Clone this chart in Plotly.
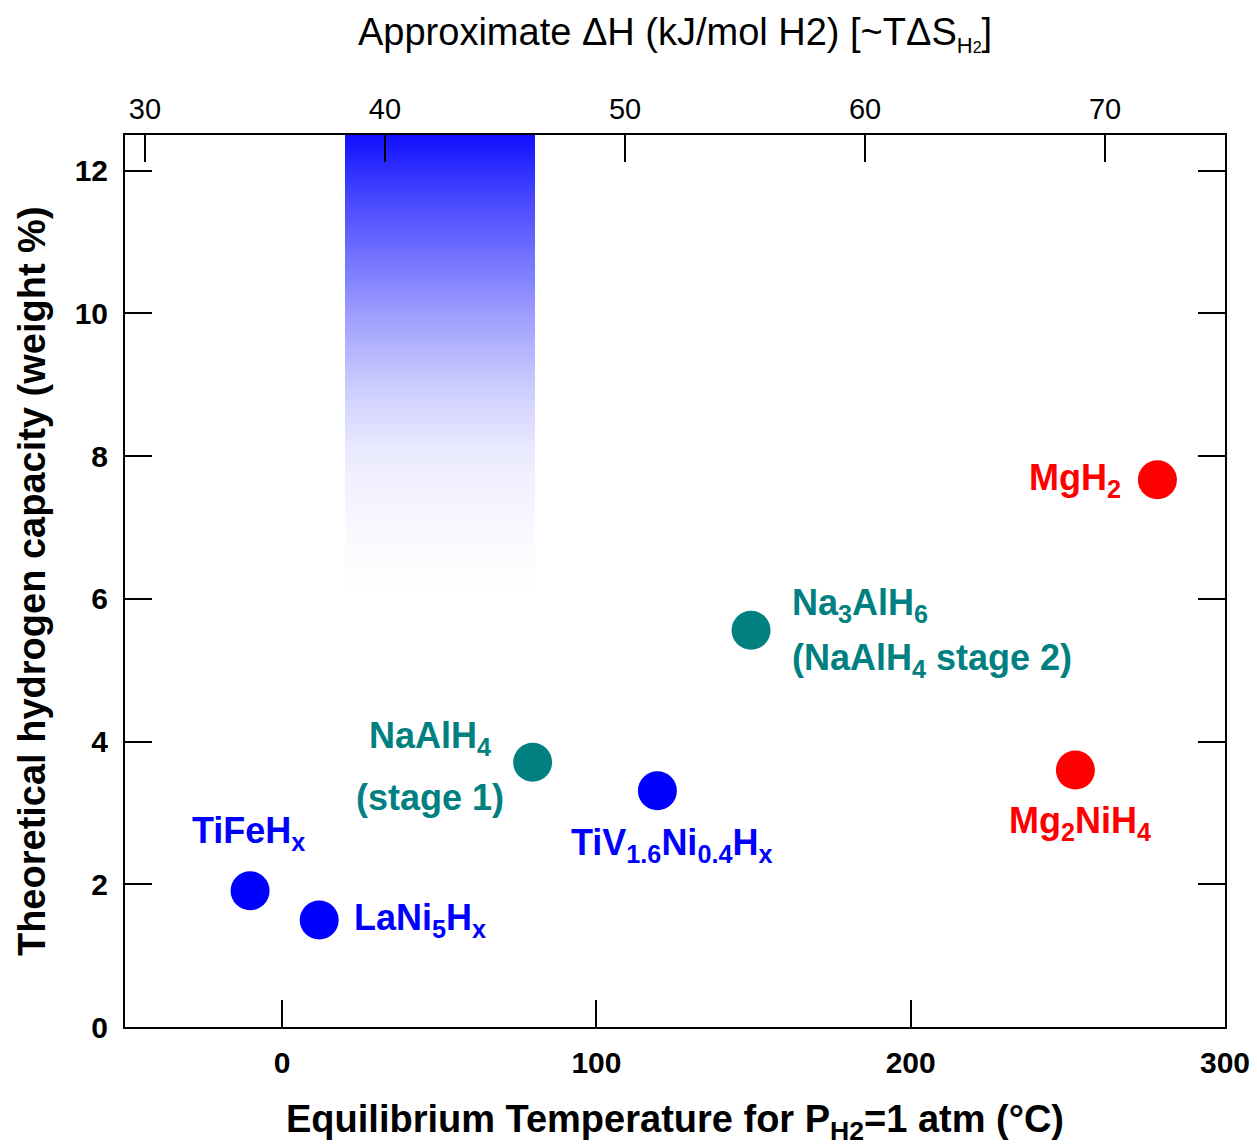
import numpy as np
import plotly.graph_objects as go

# Hydride materials: equilibrium temperature (°C) at 1 atm H2 vs. theoretical capacity (wt %)
materials = ["TiFeHx", "LaNi5Hx", "NaAlH4 (stage 1)", "TiV1.6Ni0.4Hx",
             "Na3AlH6 (NaAlH4 stage 2)", "Mg2NiH4", "MgH2"]
temperature_c = [-10.2, 11.8, 79.7, 119.4, 149.2, 252.4, 278.5]
capacity_wt = [1.91, 1.50, 3.71, 3.31, 5.56, 3.60, 7.67]
families = ["intermetallic", "intermetallic", "alanate", "intermetallic",
            "alanate", "magnesium", "magnesium"]
label_lines = [
    ["TiFeH<sub>x</sub>"],
    ["LaNi<sub>5</sub>H<sub>x</sub>"],
    ["NaAlH<sub>4</sub>", "(stage 1)"],
    ["TiV<sub>1.6</sub>Ni<sub>0.4</sub>H<sub>x</sub>"],
    ["Na<sub>3</sub>AlH<sub>6</sub>", "(NaAlH<sub>4</sub> stage 2)"],
    ["Mg<sub>2</sub>NiH<sub>4</sub>"],
    ["MgH<sub>2</sub>"],
]

# Target window, shaded as a vertical gradient band
band_temp_c = [20.0, 80.6]
band_capacity = [6.08, 12.53]

# Axis ticks
temp_ticks = [0, 100, 200, 300]
capacity_ticks = [0, 2, 4, 6, 8, 10, 12]
dh_ticks = [30, 40, 50, 60, 70]

# Styling
family_color = {"intermetallic": "#0000ff", "alanate": "#008080", "magnesium": "#ff0000"}
# label placement relative to each marker: (xshift px, xanchor, [yshift px per line])
label_place = [
    (-60, "left", [58]),
    (33, "left", [0]),
    (-103, "center", [24, -35]),
    (-88, "left", [-54]),
    (39, "left", [25, -30]),
    (5, "center", [-53]),
    (-34, "right", [0]),
]

FONT = "Liberation Sans, Arial, sans-serif"

fig = go.Figure()

# Gradient band: white at the bottom, saturated blue at the top
edges = np.linspace(band_capacity[0], band_capacity[1], 160)
centers = (edges[:-1] + edges[1:]) / 2
white_frac = [(0.0, 1.0), (0.159, 0.97), (0.304, 0.92), (0.45, 0.80),
              (0.594, 0.63), (0.739, 0.44), (0.884, 0.24), (1.0, 0.05)]
band_scale = [[p, "rgb({0},{0},255)".format(int(round(255 * w)))] for p, w in white_frac]
fig.add_trace(go.Heatmap(
    x=band_temp_c, y=edges, z=centers.reshape(-1, 1),
    zmin=band_capacity[0], zmax=band_capacity[1],
    colorscale=band_scale, showscale=False, hoverinfo="skip",
))

colors = [family_color[f] for f in families]
fig.add_trace(go.Scatter(
    x=temperature_c, y=capacity_wt, mode="markers",
    marker=dict(size=39, color=colors, line=dict(width=0)),
    text=materials, hoverinfo="text", showlegend=False,
))

# Secondary top axis (enthalpy scale) needs a trace to be drawn
fig.add_trace(go.Scatter(x=[dh_ticks[0]], y=[0], xaxis="x2", mode="markers",
                         marker=dict(opacity=0), hoverinfo="skip", showlegend=False))

for i, lines in enumerate(label_lines):
    dx, xa, dys = label_place[i]
    for line, dy in zip(lines, dys):
        fig.add_annotation(
            x=temperature_c[i], y=capacity_wt[i], text=line, showarrow=False,
            xshift=dx, yshift=dy, xanchor=xa, yanchor="middle",
            font=dict(family=FONT, size=36, color=colors[i], weight="bold"),
        )

# Axis titles
fig.add_annotation(
    xref="paper", yref="paper", x=0.5, y=-0.1065, xanchor="center", yanchor="middle",
    showarrow=False,
    text="Equilibrium Temperature for P<sub>H2</sub>=1 atm (°C)",
    font=dict(family=FONT, size=38, color="black", weight="bold"),
)
fig.add_annotation(
    xref="paper", yref="paper", x=-0.0845, y=0.5, xanchor="center", yanchor="middle",
    textangle=-90, showarrow=False,
    text="Theoretical hydrogen capacity (weight %)",
    font=dict(family=FONT, size=38, color="black", weight="bold"),
)
fig.add_annotation(
    xref="paper", yref="paper", x=0.5, y=1.113, xanchor="center", yanchor="middle",
    showarrow=False,
    text=("Approximate ΔH (kJ/mol H2) [~TΔS<sub><span style='font-size:22px'>H</span>"
          "<span style='font-size:16px'>2</span></sub>]"),
    font=dict(family=FONT, size=38, color="black"),
)

axis_common = dict(showgrid=False, zeroline=False, showline=True, linecolor="black",
                   linewidth=2, ticks="inside", ticklen=27, tickwidth=2, tickcolor="black",
                   automargin=False)

fig.update_layout(
    width=1257, height=1148,
    margin=dict(l=125, r=32, t=135, b=121),
    paper_bgcolor="white", plot_bgcolor="white",
    showlegend=False,
    xaxis=dict(range=[-50, 300], tickvals=temp_ticks, ticklabelstandoff=8,
               tickfont=dict(family=FONT, size=30, color="black", weight="bold"),
               **axis_common),
    yaxis=dict(range=[0, 12.5], tickvals=capacity_ticks, mirror="ticks", ticklabelstandoff=9,
               tickfont=dict(family=FONT, size=30, color="black", weight="bold"),
               **axis_common),
    xaxis2=dict(range=[29.167, 75], tickvals=dh_ticks, overlaying="x", side="top",
                anchor="y", ticklabelstandoff=2,
                tickfont=dict(family=FONT, size=29, color="black"),
                **axis_common),
)

fig.write_html("out.html")
